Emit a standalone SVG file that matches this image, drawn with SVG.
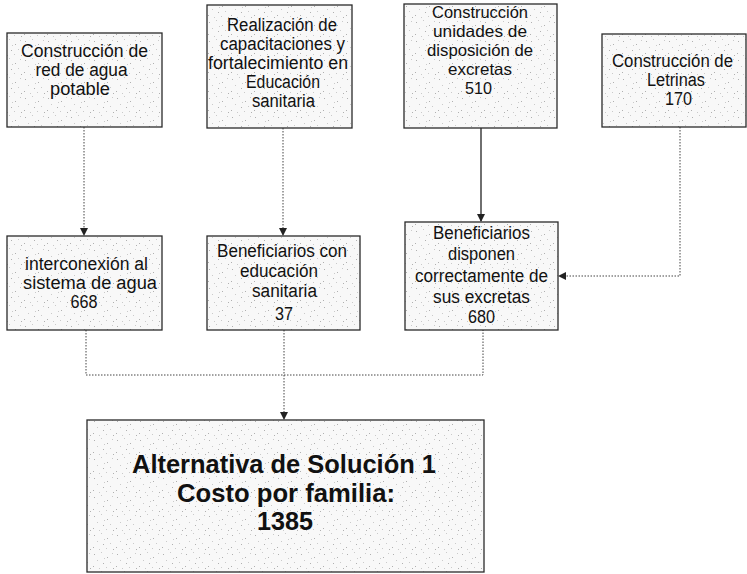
<svg xmlns="http://www.w3.org/2000/svg" width="747" height="574" viewBox="0 0 747 574">
<style>
.box{fill:url(#stip);stroke:#2a2a2a;stroke-width:1.3}
.t{font-family:"Liberation Sans",Arial,sans-serif;font-size:18px;fill:#111;text-anchor:middle}
.t3{font-size:16.5px}
.tb{font-family:"Liberation Sans",Arial,sans-serif;font-size:25px;font-weight:bold;fill:#111;text-anchor:middle}
.dot{fill:none;stroke:#444;stroke-width:1;stroke-dasharray:1.5,1.5}
.sol{fill:none;stroke:#222;stroke-width:1.3}
.s1{fill:#b0b0b0}
.s2{fill:#cacaca}
</style>
<defs>
<pattern id="stip" width="23" height="19" patternUnits="userSpaceOnUse">
<rect width="23" height="19" fill="#f8f8f8"/>
<rect class="s1" x="2" y="3" width="1" height="1"/>
<rect class="s2" x="9" y="1" width="1" height="1"/>
<rect class="s1" x="15" y="6" width="1" height="1"/>
<rect class="s2" x="20" y="2" width="1" height="1"/>
<rect class="s2" x="5" y="9" width="1" height="1"/>
<rect class="s1" x="11" y="12" width="1" height="1"/>
<rect class="s2" x="18" y="11" width="1" height="1"/>
<rect class="s1" x="1" y="15" width="1" height="1"/>
<rect class="s2" x="7" y="17" width="1" height="1"/>
<rect class="s2" x="14" y="16" width="1" height="1"/>
<rect class="s1" x="21" y="17" width="1" height="1"/>
<rect class="s2" x="12" y="7" width="1" height="1"/>
</pattern>
<marker id="ah" markerWidth="8" markerHeight="8" refX="7" refY="4" orient="auto" markerUnits="userSpaceOnUse">
<path d="M0,0 L8,4 L0,8 Z" fill="#222"/>
</marker>
</defs>
<g id="connectors">
<path class="dot" d="M84,127 V235" marker-end="url(#ah)"/>
<path class="dot" d="M283,128 V235" marker-end="url(#ah)"/>
<path class="sol" d="M481,128 V221" marker-end="url(#ah)"/>
<path class="dot" d="M680,127 V276 H559" marker-end="url(#ah)"/>
<path class="dot" d="M86,330 V375 H483 V330"/>
<path class="dot" d="M284,330 V419" marker-end="url(#ah)"/>
</g>
<g id="n1">
<rect class="box" x="7" y="33" width="155" height="94"/>
<text class="t" x="84.5" y="57" textLength="127" lengthAdjust="spacingAndGlyphs">Construcción de</text>
<text class="t" x="81.5" y="76" textLength="92" lengthAdjust="spacingAndGlyphs">red de agua</text>
<text class="t" x="80" y="95" textLength="60" lengthAdjust="spacingAndGlyphs">potable</text>
</g>
<g id="n2">
<rect class="box" x="207" y="5" width="145" height="123"/>
<text class="t" x="282" y="31" textLength="110" lengthAdjust="spacingAndGlyphs">Realización de</text>
<text class="t" x="282.5" y="50" textLength="125" lengthAdjust="spacingAndGlyphs">capacitaciones  y</text>
<text class="t" x="278" y="69" textLength="140" lengthAdjust="spacingAndGlyphs">fortalecimiento  en</text>
<text class="t" x="283" y="88" textLength="74" lengthAdjust="spacingAndGlyphs">Educación</text>
<text class="t" x="283.5" y="107" textLength="63" lengthAdjust="spacingAndGlyphs">sanitaria</text>
</g>
<g id="n3">
<rect class="box" x="404" y="4" width="153" height="124"/>
<text class="t t3" x="480" y="18" textLength="96" lengthAdjust="spacingAndGlyphs">Construcción</text>
<text class="t t3" x="480" y="37" textLength="94" lengthAdjust="spacingAndGlyphs">unidades de</text>
<text class="t t3" x="480" y="56" textLength="106" lengthAdjust="spacingAndGlyphs">disposición de</text>
<text class="t t3" x="480" y="75" textLength="64" lengthAdjust="spacingAndGlyphs">excretas</text>
<text class="t t3" x="478.5" y="94" textLength="27" lengthAdjust="spacingAndGlyphs">510</text>
</g>
<g id="n4">
<rect class="box" x="602" y="34" width="144" height="93"/>
<text class="t" x="672.5" y="67" textLength="121" lengthAdjust="spacingAndGlyphs">Construcción de</text>
<text class="t" x="676" y="86" textLength="58" lengthAdjust="spacingAndGlyphs">Letrinas</text>
<text class="t" x="678.5" y="105" textLength="27" lengthAdjust="spacingAndGlyphs">170</text>
</g>
<g id="nA">
<rect class="box" x="7" y="236" width="155" height="94"/>
<text class="t" x="86.5" y="270" textLength="123" lengthAdjust="spacingAndGlyphs">interconexión al</text>
<text class="t" x="90" y="289" textLength="134" lengthAdjust="spacingAndGlyphs">sistema de agua</text>
<text class="t" x="84" y="308" textLength="27" lengthAdjust="spacingAndGlyphs">668</text>
</g>
<g id="nB">
<rect class="box" x="207" y="236" width="153" height="94"/>
<text class="t" x="282" y="257" textLength="130" lengthAdjust="spacingAndGlyphs">Beneficiarios con</text>
<text class="t" x="279" y="277" textLength="78" lengthAdjust="spacingAndGlyphs">educación</text>
<text class="t" x="284.5" y="297" textLength="65" lengthAdjust="spacingAndGlyphs">sanitaria</text>
<text class="t" x="284" y="320" textLength="18" lengthAdjust="spacingAndGlyphs">37</text>
</g>
<g id="nC">
<rect class="box" x="405" y="222" width="153" height="108"/>
<text class="t" x="481.5" y="239" textLength="97" lengthAdjust="spacingAndGlyphs">Beneficiarios</text>
<text class="t" x="481.5" y="260" textLength="67" lengthAdjust="spacingAndGlyphs">disponen</text>
<text class="t" x="481.5" y="282" textLength="133" lengthAdjust="spacingAndGlyphs">correctamente de</text>
<text class="t" x="481.5" y="303" textLength="97" lengthAdjust="spacingAndGlyphs">sus excretas</text>
<text class="t" x="481.5" y="323" textLength="27" lengthAdjust="spacingAndGlyphs">680</text>
</g>
<g id="nD">
<rect class="box" x="87" y="420" width="397" height="152"/>
<text class="tb" x="284" y="473" textLength="304" lengthAdjust="spacingAndGlyphs">Alternativa de Solución 1</text>
<text class="tb" x="286" y="502" textLength="218" lengthAdjust="spacingAndGlyphs">Costo por familia:</text>
<text class="tb" x="285" y="530" textLength="56" lengthAdjust="spacingAndGlyphs">1385</text>
</g>
</svg>
